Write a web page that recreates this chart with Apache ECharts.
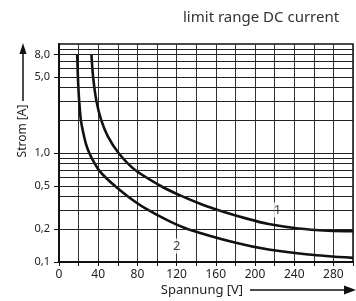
<!DOCTYPE html>
<html>
<head>
<meta charset="utf-8">
<script src="https://cdn.jsdelivr.net/npm/echarts@6/dist/echarts.min.js"></script>
<style>
  html, body { margin: 0; padding: 0; background: #fff; }
  #chart { width: 356px; height: 301px; }
</style>
</head>
<body>
<div id="chart"></div>
<script>
  // curve 1 (upper) and curve 2 (lower)
  const voltage1 = [33.1, 34.8, 38.2, 43.1, 49.7, 60.8, 77, 103.9, 123.6, 145.9, 165.2, 191.6, 213.9, 244.3, 274.7, 300]
  const current1 = [8, 5, 3, 2, 1.43, 1.0, 0.706, 0.498, 0.408, 0.337, 0.294, 0.25, 0.223, 0.203, 0.194, 0.192]
  const voltage2 = [18.5, 19.6, 20.6, 22.3, 24.6, 27.4, 30.9, 35.5, 40.5, 48.6, 57.8, 71.7, 88.2, 112.5, 131.8, 180.4, 213.9, 254.4, 300]
  const current2 = [8, 4.3, 3.0, 2.0, 1.56, 1.22, 1.0, 0.827, 0.7, 0.583, 0.493, 0.391, 0.31, 0.237, 0.2, 0.15, 0.13, 0.117, 0.109]

  // curve numbers
  const curveNames = ['1', '2']
  const nameVoltage = [223, 120]
  const nameCurrent = [0.3, 0.14]

  // axis
  const yLabels = [0.1, 0.2, 0.5, 1, 5, 8]
  const gridCurrents = [0.2, 0.3, 0.4, 0.5, 0.6, 0.7, 0.8, 0.9, 1, 2, 3, 4, 5, 6, 7, 8, 9]

  const font = 'Noto Sans'
  const ink = '#111'
  const toPairs = (xs, ys) => xs.map((x, i) => [x, ys[i]])
  const fmt = v => Number(v).toFixed(1).replace('.', ',')

  const chart = echarts.init(document.getElementById('chart'))
  chart.setOption({
    animation: false,
    title: {
      text: 'limit range DC current',
      left: 178, top: 5,
      textStyle: { fontFamily: font, fontSize: 15, fontWeight: 'normal', color: '#333' }
    },
    grid: { left: 59, top: 44, width: 296, height: 218, show: true, borderColor: ink, borderWidth: 1.5 },
    xAxis: {
      type: 'value', min: 0, max: 300, interval: 20,
      axisLine: { lineStyle: { color: ink, width: 2 } },
      axisTick: { length: 4, lineStyle: { color: ink } },
      axisLabel: {
        formatter: v => (v % 40 === 0 ? String(v) : ''),
        fontFamily: font, fontSize: 12, color: '#222', margin: 7
      },
      splitLine: { lineStyle: { color: '#333', width: 1 } }
    },
    yAxis: {
      type: 'log', logBase: 10, min: 0.1, max: 10,
      axisLine: { show: true, lineStyle: { color: ink, width: 2 } },
      axisTick: { show: true, customValues: yLabels, length: 5, lineStyle: { color: ink } },
      axisLabel: {
        customValues: yLabels, formatter: fmt,
        fontFamily: font, fontSize: 11, color: '#222', margin: 9
      },
      splitLine: { show: false }
    },
    graphic: [
      { type: 'line', shape: { x1: 23, y1: 101, x2: 23, y2: 52 }, style: { stroke: ink, lineWidth: 1.5 } },
      { type: 'polygon', shape: { points: [[23, 43], [19.5, 54], [26.5, 54]] }, style: { fill: ink } },
      {
        type: 'text', x: 23, y: 131, rotation: Math.PI / 2,
        style: { text: 'Strom [A]', font: '12px "Noto Sans"', fill: '#222', textAlign: 'center', textVerticalAlign: 'middle' }
      },
      {
        type: 'text', x: 202, y: 290,
        style: { text: 'Spannung [V]', font: '13px "Noto Sans"', fill: '#222', textAlign: 'center', textVerticalAlign: 'middle' }
      },
      { type: 'line', shape: { x1: 250, y1: 290, x2: 346, y2: 290 }, style: { stroke: ink, lineWidth: 1.5 } },
      { type: 'polygon', shape: { points: [[356, 290], [344, 285.5], [344, 294.5]] }, style: { fill: ink } }
    ],
    series: [
      {
        name: 'grid', type: 'line', data: [], z: 1, silent: true,
        markLine: {
          silent: true, symbol: ['none', 'none'], label: { show: false },
          lineStyle: { color: '#222', width: 1, type: 'solid' },
          data: gridCurrents.map(v => ({ yAxis: v }))
        }
      },
      {
        name: '1', type: 'line', z: 3, data: toPairs(voltage1, current1),
        showSymbol: false, smooth: 0.3,
        lineStyle: { color: ink, width: 2.6 }
      },
      {
        name: '2', type: 'line', z: 3, data: toPairs(voltage2, current2),
        showSymbol: false, smooth: 0.3,
        lineStyle: { color: ink, width: 2.6 }
      },
      {
        name: 'labels', type: 'scatter', z: 4, symbolSize: 0,
        data: curveNames.map((n, i) => ({ name: n, value: [nameVoltage[i], nameCurrent[i]] })),
        label: {
          show: true, position: 'inside', formatter: '{b}',
          fontFamily: font, fontSize: 13, color: ink,
          backgroundColor: '#fff', padding: [1, 5]
        }
      }
    ]
  })
</script>
</body>
</html>
